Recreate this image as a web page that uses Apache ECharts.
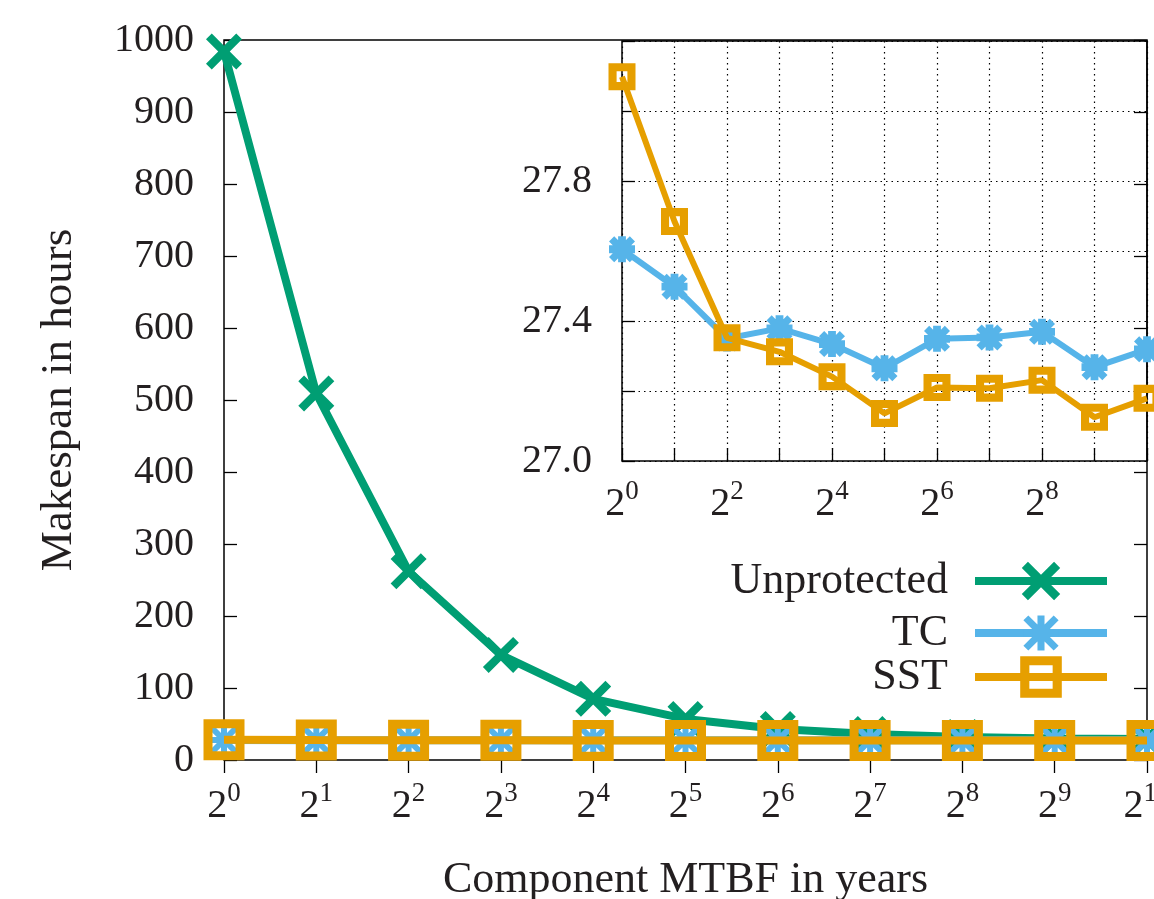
<!DOCTYPE html>
<html><head><meta charset="utf-8">
<script src="https://cdn.jsdelivr.net/npm/echarts@6/dist/echarts.min.js"></script>
<style>html,body{margin:0;padding:0;background:#fff}#c{width:1154px;height:899px}</style>
</head><body><div id="c"></div>
<script>
// ---- data ----
const exponents = [0, 1, 2, 3, 4, 5, 6, 7, 8, 9, 10];
const unprotected = [984, 509, 262, 146, 85, 57, 43, 36, 32, 30, 29];
const tc = [27.605, 27.498, 27.35, 27.379, 27.334, 27.265, 27.349, 27.353, 27.369, 27.268, 27.319];
const sst = [28.098, 27.684, 27.352, 27.312, 27.241, 27.136, 27.21, 27.208, 27.231, 27.125, 27.179];
const insetYLabels = [27.0, 27.4, 27.8];
const insetXLabelExps = [0, 2, 4, 6, 8];

// ---- style ----
const FONT = 'Liberation Serif';
const TXT = '#231f20';
const GREEN = '#009E73', BLUE = '#56B4E9', ORANGE = '#E69F00';
const SYM_X = 'path://M0,16L16,0L50,34L84,0L100,16L66,50L100,84L84,100L50,66L16,100L0,84L34,50Z';
const SYM_STAR = 'path://M0,14L14,0L50,36L86,0L100,14L64,50L100,86L86,100L50,64L14,100L0,86L36,50Z M40,0L60,0L60,40L100,40L100,60L60,60L60,100L40,100L40,60L0,60L0,40L40,40Z';
const SYM_STAR_IN = 'path://M0,20L20,0L50,30L80,0L100,20L70,50L100,80L80,100L50,70L20,100L0,80L30,50Z M35,0L65,0L65,35L100,35L100,65L65,65L65,100L35,100L35,65L0,65L0,35L35,35Z';
const SYM_SQ = 'path://M0,0L100,0L100,100L0,100Z M22,22L22,78L78,78L78,22Z';
const SYM_SQ_IN = 'path://M0,0L100,0L100,100L0,100Z M30,30L30,70L70,70L70,30Z';

const cats = exponents.map(String);
const rich = {
  b: {fontFamily: FONT, fontSize: 40, color: TXT, lineHeight: 46, verticalAlign: 'bottom'},
  s: {fontFamily: FONT, fontSize: 27, color: TXT, verticalAlign: 'top'}
};
const powFmt = v => '{b|2}{s|' + v + '}';
const tickStyle = {color: '#000', width: 1.3};
const legendText = {fontFamily: FONT, fontSize: 44, color: TXT, padding: [0, 22, 0, 0]};

const chart = echarts.init(document.getElementById('c'), null, {renderer: 'canvas'});
const option = {
  animation: false,
  backgroundColor: '#fff',
  grid: [
    {left: 224, top: 40, width: 923, height: 720, show: true, borderColor: '#000', borderWidth: 1.5,
     backgroundColor: 'transparent', outerBoundsMode: 'none', containLabel: false},
    {left: 622, top: 41, width: 525, height: 420, show: true, borderColor: '#000', borderWidth: 1.5,
     backgroundColor: 'transparent', outerBoundsMode: 'none', containLabel: false}
  ],
  xAxis: [
    {gridIndex: 0, type: 'category', data: cats, boundaryGap: false, position: 'bottom',
     axisLine: {show: false},
     axisTick: {show: true, inside: true, length: 13, interval: 0, lineStyle: tickStyle},
     axisLabel: {interval: 0, margin: 20, formatter: powFmt, rich: rich},
     splitLine: {show: false},
     name: 'Component MTBF in years', nameLocation: 'middle', nameGap: 98,
     nameTextStyle: {fontFamily: FONT, fontSize: 44, color: TXT}},
    {gridIndex: 0, type: 'category', data: cats, boundaryGap: false, position: 'top',
     axisLine: {show: false},
     axisTick: {show: true, inside: true, length: 13, interval: 0, lineStyle: tickStyle},
     axisLabel: {show: false}, splitLine: {show: false}},
    {gridIndex: 1, type: 'category', data: cats, boundaryGap: false, position: 'bottom',
     axisLine: {show: false},
     axisTick: {show: true, inside: true, length: 13, interval: 0, lineStyle: tickStyle},
     axisLabel: {margin: 17, formatter: powFmt, rich: rich,
       interval: (idx, val) => insetXLabelExps.indexOf(Number(val)) >= 0},
     splitLine: {show: true, interval: 0, lineStyle: {color: '#000', width: 1.2, type: [1.5, 4]}}}
  ],
  yAxis: [
    {gridIndex: 0, type: 'value', min: 0, max: 1000, interval: 100, position: 'left',
     axisLine: {show: false},
     axisTick: {show: true, inside: true, length: 13, lineStyle: tickStyle},
     axisLabel: {margin: 30, fontFamily: FONT, fontSize: 40, color: TXT, formatter: v => String(v)},
     splitLine: {show: false},
     name: 'Makespan in hours', nameLocation: 'middle', nameGap: 142,
     nameTextStyle: {fontFamily: FONT, fontSize: 45, color: TXT}},
    {gridIndex: 0, type: 'value', min: 0, max: 1000, interval: 100, position: 'right',
     axisLine: {show: false},
     axisTick: {show: true, inside: true, length: 13, lineStyle: tickStyle},
     axisLabel: {show: false}, splitLine: {show: false}},
    {gridIndex: 1, type: 'value', min: 27.0, max: 28.2, interval: 0.2, position: 'left',
     axisLine: {show: false},
     axisTick: {show: true, inside: true, length: 13, lineStyle: tickStyle},
     axisLabel: {margin: 30, fontFamily: FONT, fontSize: 40, color: TXT,
       formatter: v => insetYLabels.some(t => Math.abs(t - v) < 1e-6) ? v.toFixed(1) : ''},
     splitLine: {show: true, lineStyle: {color: '#000', width: 1.2, type: [1.5, 4]}}}
  ],
  legend: [
    {data: ['Unprotected'], right: 43, top: 559, padding: 0, itemWidth: 132, itemHeight: 48, orient: 'vertical', align: 'right',
     lineStyle: {width: 8}, textStyle: legendText, selectedMode: false},
    {data: ['TC'], right: 43, top: 611, padding: 0, itemWidth: 132, itemHeight: 44, orient: 'vertical', align: 'right',
     lineStyle: {width: 8}, textStyle: legendText, selectedMode: false},
    {data: ['SST'], right: 43, top: 655, padding: 0, itemWidth: 132, itemHeight: 52, orient: 'vertical', align: 'right',
     lineStyle: {width: 8}, textStyle: legendText, selectedMode: false}
  ],
  series: [
    {name: 'Unprotected', type: 'line', xAxisIndex: 0, yAxisIndex: 0, data: unprotected,
     symbol: SYM_X, symbolSize: 36, showAllSymbol: true, clip: false,
     lineStyle: {color: GREEN, width: 8}, itemStyle: {color: GREEN, borderWidth: 0}, z: 3},
    {name: 'TC', type: 'line', xAxisIndex: 0, yAxisIndex: 0, data: tc,
     symbol: SYM_STAR, symbolSize: 30, showAllSymbol: true, clip: false,
     lineStyle: {color: BLUE, width: 8}, itemStyle: {color: BLUE, borderWidth: 0}, z: 4},
    {name: 'SST', type: 'line', xAxisIndex: 0, yAxisIndex: 0, data: sst,
     symbol: SYM_SQ, symbolSize: 41, showAllSymbol: true, clip: false,
     lineStyle: {color: ORANGE, width: 8}, itemStyle: {color: ORANGE, borderWidth: 0}, z: 5},
    {name: 'TC', type: 'line', xAxisIndex: 2, yAxisIndex: 2, data: tc,
     symbol: SYM_STAR_IN, symbolSize: 26, showAllSymbol: true, clip: false,
     lineStyle: {color: BLUE, width: 6}, itemStyle: {color: BLUE, borderWidth: 0}, z: 4},
    {name: 'SST', type: 'line', xAxisIndex: 2, yAxisIndex: 2, data: sst,
     symbol: SYM_SQ_IN, symbolSize: 27, showAllSymbol: true, clip: false,
     lineStyle: {color: ORANGE, width: 6}, itemStyle: {color: ORANGE, borderWidth: 0}, z: 5}
  ]
};
chart.setOption(option);
</script>
</body></html>
